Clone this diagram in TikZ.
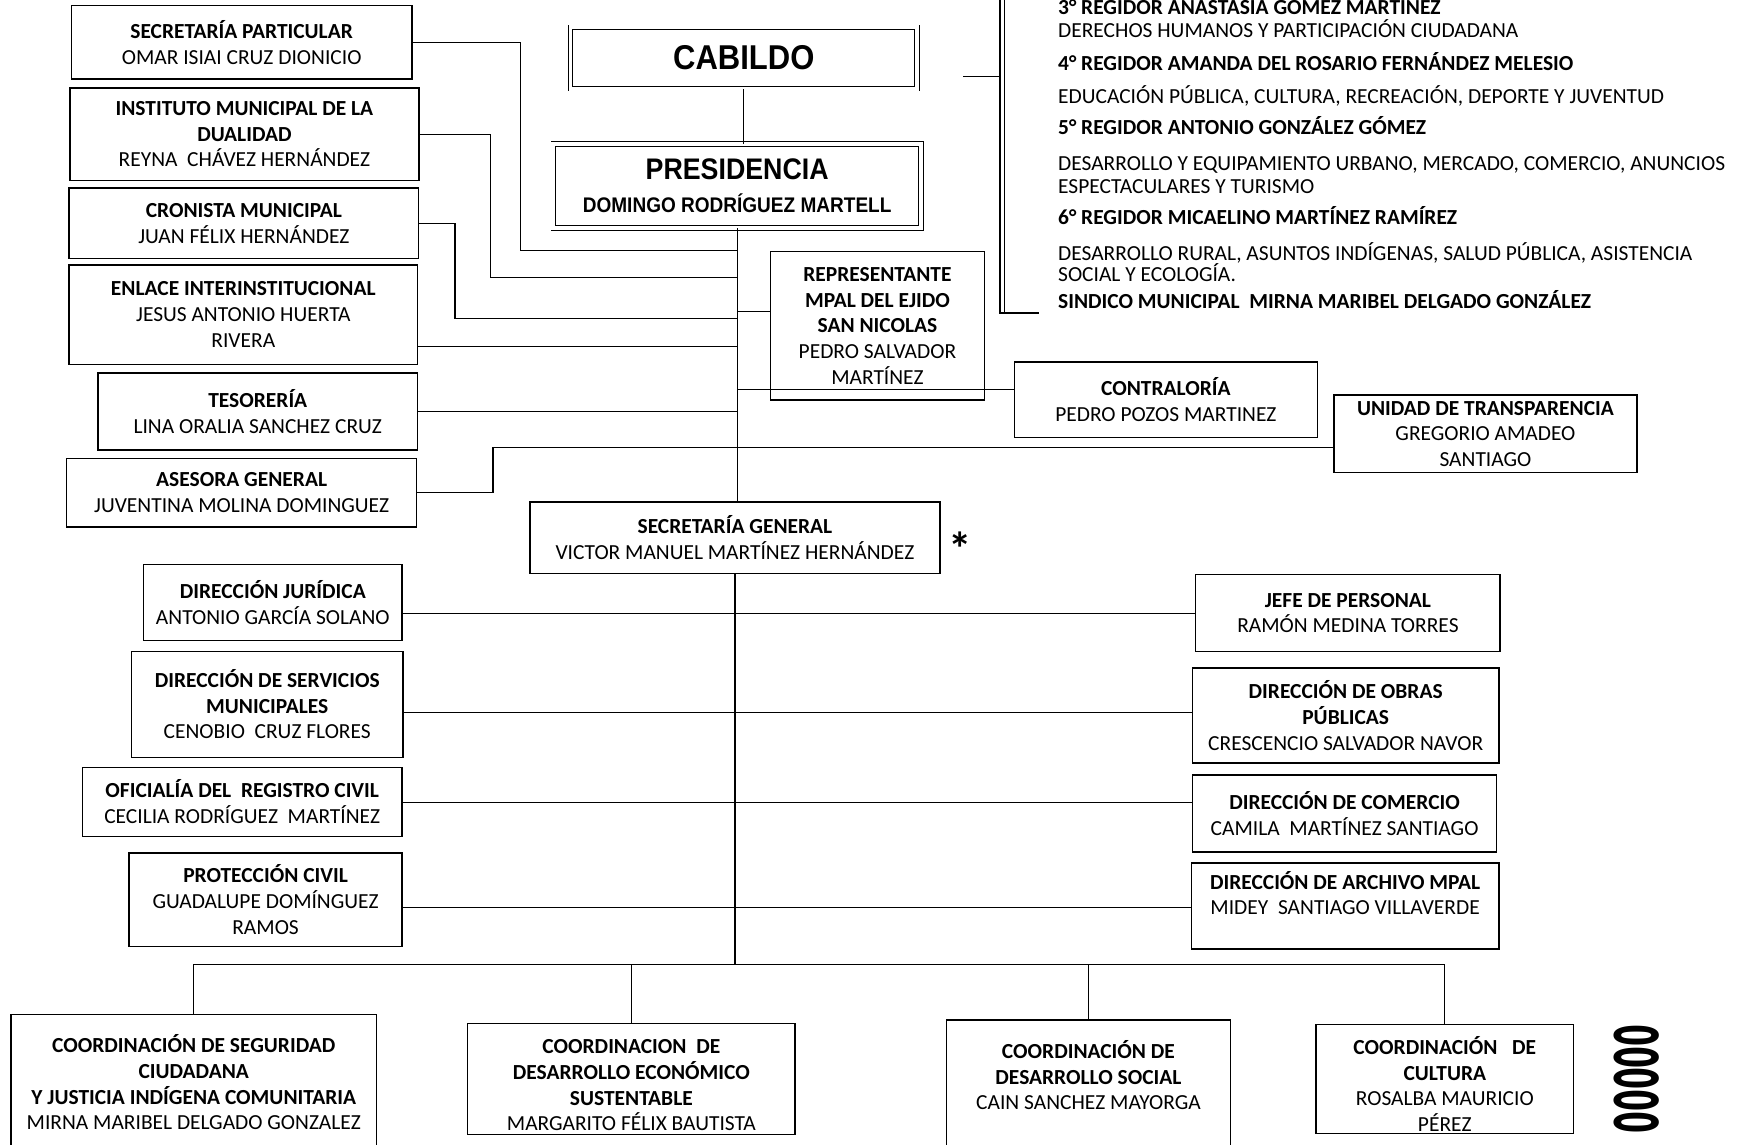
\documentclass[tikz,border=0pt]{standalone}
\usepackage{fontspec}
\setmainfont{Carlito}
\newfontfamily\arialfont[FakeStretch=0.9]{Liberation Sans}
\newfontfamily\dejafont{DejaVu Sans}

\begin{document}
\begin{tikzpicture}[x=0.025cm,y=-0.025cm,
  box/.style={draw,line width=0.9pt,align=center,inner sep=1pt,font=\fontsize{13.7}{16.4}\selectfont},
  dbox/.style={draw,double,double distance=2.5pt,line width=0.45pt,align=center,inner sep=1pt},
  con/.style={line width=0.8pt},
  reg/.style={anchor=base west,inner sep=0pt,font=\fontsize{13.7}{16.4}\selectfont}]
  \useasboundingbox (0,0) rectangle (1568,1028);
  \clip (0,0) rectangle (1568,1028);
  % cabildo y presidencia
  \node[dbox,minimum width=7.78cm,minimum height=1.38cm,font=\arialfont\bfseries\fontsize{22}{24}\selectfont] (cab) at (668,52) {CABILDO};
  \node[dbox,minimum width=8.25cm,minimum height=1.88cm,font=\arialfont\bfseries\fontsize{13.5}{21}\selectfont] (pres) at (662,167)
     {{\fontsize{19}{21}\selectfont PRESIDENCIA}\\DOMINGO RODRÍGUEZ MARTELL};
  % columna izquierda
  \node[box,minimum width=7.65cm,minimum height=1.65cm] (secpart) at (217,38) {\textbf{SECRETARÍA PARTICULAR}\\OMAR ISIAI CRUZ DIONICIO};
  \node[box,minimum width=7.83cm,minimum height=2.08cm] (inst) at (219.5,120.5) {\textbf{INSTITUTO MUNICIPAL DE LA}\\\textbf{DUALIDAD}\\REYNA\ \ CHÁVEZ HERNÁNDEZ};
  \node[box,minimum width=7.85cm,minimum height=1.58cm] (cron) at (219,200.5) {\textbf{CRONISTA MUNICIPAL}\\JUAN FÉLIX HERNÁNDEZ};
  \node[box,minimum width=7.83cm,minimum height=2.23cm] (enl) at (218.5,282.5) {\textbf{ENLACE INTERINSTITUCIONAL}\\JESUS ANTONIO HUERTA\\RIVERA};
  \node[box,minimum width=7.18cm,minimum height=1.73cm] (tes) at (231.5,369.5) {\textbf{TESORERÍA}\\LINA ORALIA SANCHEZ CRUZ};
  \node[box,minimum width=7.85cm,minimum height=1.53cm] (ase) at (217,442.5) {\textbf{ASESORA GENERAL}\\JUVENTINA MOLINA DOMINGUEZ};
  % centro
  \node[box,minimum width=4.8cm,minimum height=3.33cm] (rep) at (788,292.5) {\textbf{REPRESENTANTE}\\\textbf{MPAL DEL EJIDO}\\\textbf{SAN NICOLAS}\\PEDRO SALVADOR\\MARTÍNEZ};
  \node[box,minimum width=6.8cm,minimum height=1.7cm] (contr) at (1047,359) {\textbf{CONTRALORÍA}\\PEDRO POZOS MARTINEZ};
  \node[box,minimum width=6.8cm,minimum height=1.73cm] (trans) at (1334,389.5) {\textbf{UNIDAD DE TRANSPARENCIA}\\GREGORIO AMADEO\\SANTIAGO};
  \node[box,minimum width=9.2cm,minimum height=1.6cm] (secgen) at (660,483) {\textbf{SECRETARÍA GENERAL}\\VICTOR MANUEL MARTÍNEZ HERNÁNDEZ};
  \node[font=\bfseries\fontsize{30}{30}\selectfont,inner sep=0pt] (ast) at (862,493) {*};
  % regidores
  \node[reg] (r3) at (950,13) {\textbf{3° REGIDOR ANASTASIA GÓMEZ MARTÍNEZ}};
  \node[reg] (c3t) at (950,34) {DERECHOS HUMANOS Y PARTICIPACIÓN CIUDADANA};
  \node[reg] (r4) at (950,63) {\textbf{4° REGIDOR AMANDA DEL ROSARIO FERNÁNDEZ MELESIO}};
  \node[reg] (c4t) at (950,93) {EDUCACIÓN PÚBLICA, CULTURA, RECREACIÓN, DEPORTE Y JUVENTUD};
  \node[reg] (r5) at (950,121) {\textbf{5° REGIDOR ANTONIO GONZÁLEZ GÓMEZ}};
  \node[reg] (c5t) at (950,153) {DESARROLLO Y EQUIPAMIENTO URBANO, MERCADO, COMERCIO, ANUNCIOS};
  \node[reg] (c5u) at (950,174) {ESPECTACULARES Y TURISMO};
  \node[reg] (r6) at (950,202) {\textbf{6° REGIDOR MICAELINO MARTÍNEZ RAMÍREZ}};
  \node[reg] (c6t) at (950,234) {DESARROLLO RURAL, ASUNTOS INDÍGENAS, SALUD PÚBLICA, ASISTENCIA};
  \node[reg] (c6u) at (950,253) {SOCIAL Y ECOLOGÍA.};
  \node[reg] (sind) at (950,277) {\textbf{SINDICO MUNICIPAL\ \ MIRNA MARIBEL DELGADO GONZÁLEZ}};
  % direcciones
  \node[box,minimum width=5.8cm,minimum height=1.7cm] (jur) at (245,541) {\textbf{DIRECCIÓN JURÍDICA}\\ANTONIO GARCÍA SOLANO};
  \node[box,minimum width=6.1cm,minimum height=2.38cm] (serv) at (240,632.5) {\textbf{DIRECCIÓN DE SERVICIOS}\\\textbf{MUNICIPALES}\\CENOBIO\ \ CRUZ FLORES};
  \node[box,minimum width=7.18cm,minimum height=1.55cm] (ofi) at (217.5,720) {\textbf{OFICIALÍA DEL\ \ REGISTRO CIVIL}\\CECILIA RODRÍGUEZ\ \ MARTÍNEZ};
  \node[box,minimum width=6.13cm,minimum height=2.1cm] (prot) at (238.5,808) {\textbf{PROTECCIÓN CIVIL}\\GUADALUPE DOMÍNGUEZ\\RAMOS};
  \node[box,minimum width=6.83cm,minimum height=1.73cm] (per) at (1210.5,550.5) {\textbf{JEFE DE PERSONAL}\\RAMÓN MEDINA TORRES};
  \node[box,minimum width=6.88cm,minimum height=2.13cm] (obras) at (1208.5,642.5) {\textbf{DIRECCIÓN DE OBRAS}\\\textbf{PÚBLICAS}\\CRESCENCIO SALVADOR NAVOR};
  \node[box,minimum width=6.83cm,minimum height=1.73cm] (com) at (1207.5,730.5) {\textbf{DIRECCIÓN DE COMERCIO}\\CAMILA\ \ MARTÍNEZ SANTIAGO};
  \node[box,minimum width=6.9cm,minimum height=1.93cm] (arch) at (1208,813.5) {\textbf{DIRECCIÓN DE ARCHIVO MPAL}\\MIDEY\ \ SANTIAGO VILLAVERDE\\\mbox{}};
  % coordinaciones
  \node[box,minimum width=8.2cm,minimum height=3.05cm] (c1) at (174,972) {\textbf{COORDINACIÓN DE SEGURIDAD}\\\textbf{CIUDADANA}\\\textbf{Y JUSTICIA INDÍGENA COMUNITARIA}\\MIRNA MARIBEL DELGADO GONZALEZ};
  \node[box,minimum width=7.35cm,minimum height=2.5cm] (c2) at (567,969) {\rule{0pt}{17pt}\textbf{COORDINACION\ \ DE}\\\textbf{DESARROLLO ECONÓMICO}\\\textbf{SUSTENTABLE}\\MARGARITO FÉLIX BAUTISTA};
  \node[box,minimum width=6.38cm,minimum height=3.05cm] (c3) at (977.5,977) {\textbf{COORDINACIÓN DE}\\\textbf{DESARROLLO SOCIAL}\\CAIN SANCHEZ MAYORGA\\\mbox{}};
  \node[box,minimum width=5.78cm,minimum height=2.45cm] (c4) at (1297.5,969) {\rule{0pt}{18pt}\textbf{COORDINACIÓN\ \ \ DE}\\\textbf{CULTURA}\\ROSALBA MAURICIO\\PÉREZ};
  \node[rotate=90,inner sep=0pt] (sello) at (1470,969) {\resizebox{2.45cm}{1cm}{\dejafont\bfseries 00000}};
  % lineas
  \coordinate (j1) at (662,225);
  \coordinate (j2) at (662,249);
  \coordinate (j3) at (662,286);
  \coordinate (j4) at (662,311);
  \coordinate (j5) at (662,280);
  \coordinate (j6) at (662,350);
  \coordinate (j7) at (662,402);
  \coordinate (bus) at (660,866);
  \coordinate (rt) at (898,-5);
  \coordinate (rk) at (898,69);
  \coordinate (rb) at (898,281);
  \draw[con] (cab.south) -- (cab.south |- pres.north);
  \draw[con] (pres.south) -- (pres.south |- secgen.north);
  \draw[con] (secpart.east) -- ++(97,0) |- (j1);
  \draw[con] (inst.east) -- ++(64,0) |- (j2);
  \draw[con] (cron.east) -- ++(32,0) |- (j3);
  \draw[con] (j4) -- (j4 -| enl.east);
  \draw[con] (j5) -- (j5 -| rep.west);
  \draw[con] (tes.east) -- (tes.east -| j1);
  \draw[con] (j6) -- (j6 -| contr.west);
  \draw[con] (ase.east) -- ++(68,0) |- (j7 -| trans.west);
  \draw[con] (rt) -- (rb) -- ++(35,0);
  \draw[line width=0.4pt] ([xshift=2.5pt]rt) -- ([xshift=2.5pt]rb);
  \draw[con] (rk) -- ++(-33,0);
  \draw[con] (secgen.south) -- (secgen.south |- bus);
  \foreach \a/\b/\y in {jur/per/551,serv/obras/640,ofi/com/721,prot/arch/815}
    \draw[con] (\a.east |- 0,\y) -- (\b.west |- 0,\y);
  \draw[con] (c1.north) |- (bus) -| (c4.north);
  \draw[con] (c2.north) -- (c2.north |- bus);
  \draw[con] (c3.north) -- (c3.north |- bus);
\end{tikzpicture}
\end{document}
